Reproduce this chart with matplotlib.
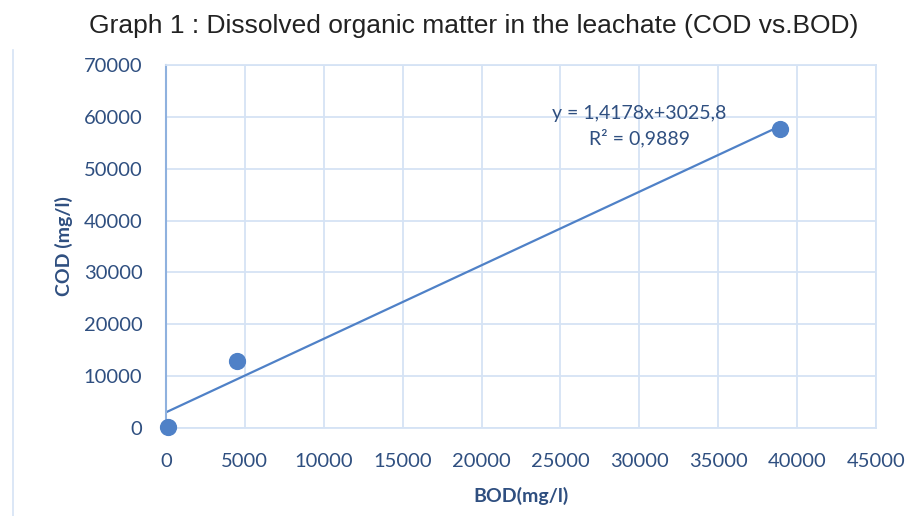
import matplotlib.pyplot as plt
from matplotlib.lines import Line2D

bod = [100, 4500, 38900]
cod = [250, 13000, 57700]
slope = 1.4178
intercept = 3025.8
r2 = 0.9889

blue = '#4F81C7'
tick_col = '#2F4F80'
grid_col = '#D5E3F5'

fig = plt.figure(figsize=(9.22, 5.16), dpi=100)
ax = fig.add_axes([166 / 922, 1 - 428 / 516, 710 / 922, 363 / 516])

ax.scatter(bod, cod, s=130, color=blue, zorder=3, clip_on=False)
x_fit = [0, max(bod)]
y_fit = [slope * v + intercept for v in x_fit]
ax.plot(x_fit, y_fit, color=blue, linewidth=1.6, zorder=2)

ax.set_xlim(0, 45000)
ax.set_ylim(0, 70000)
ax.set_xticks(range(0, 45001, 5000))
ax.set_yticks(range(0, 70001, 10000))
ax.grid(True, color=grid_col, linewidth=1.3)
ax.set_axisbelow(True)
for side in ['top', 'right', 'bottom']:
    ax.spines[side].set_color(grid_col)
    ax.spines[side].set_linewidth(1.3)
ax.spines['left'].set_color('#8FB1DE')
ax.spines['left'].set_linewidth(1.5)
ax.tick_params(axis='y', length=0, pad=17, labelsize=14.5, labelcolor=tick_col)
ax.tick_params(axis='x', length=0, pad=18, labelsize=14.5, labelcolor=tick_col)
for lab in ax.get_xticklabels() + ax.get_yticklabels():
    lab.set_family('Lato')

eq = 'y = ' + f'{slope:.4f}'.replace('.', ',') + 'x+' + f'{intercept:.1f}'.replace('.', ',')
ax.text(30000, 60600, eq, ha='center', va='center', fontsize=14,
        color=tick_col, family='Lato')
ax.text(30000, 56000, 'R² = ' + f'{r2:.4f}'.replace('.', ','), ha='center',
        va='center', fontsize=14, color=tick_col, family='Lato')

ax.set_xlabel('BOD(mg/l)', fontsize=14, fontweight='bold', color=tick_col,
              family='Lato', labelpad=12)
ax.set_ylabel('COD (mg/l)', fontsize=14, fontweight='bold', color=tick_col,
              family='Lato', labelpad=8)

fig.text(474 / 922, 1 - 26 / 516, 'Graph 1 : Dissolved organic matter in the leachate (COD vs.BOD)',
         ha='center', va='center', fontsize=19, family='Liberation Sans', color='#222222')

fig.add_artist(Line2D([13 / 922, 13 / 922], [0, 1 - 50 / 516], transform=fig.transFigure,
                      color=grid_col, linewidth=1.2))

fig.savefig('out.png', dpi=100)
